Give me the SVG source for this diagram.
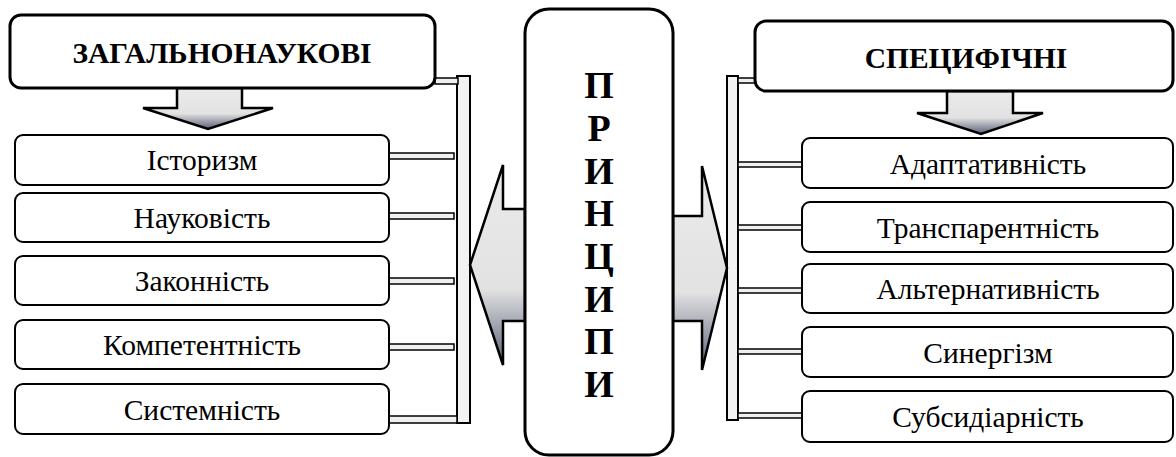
<svg xmlns="http://www.w3.org/2000/svg" width="1176" height="457" viewBox="0 0 1176 457">
<style>
.hdr{fill:#fff;stroke:#000;stroke-width:3}
.item{fill:#fff;stroke:#000;stroke-width:2}
.bar{fill:#f2f2f2;stroke:#000;stroke-width:2}
.conn{fill:#f0f0f0;stroke:#000;stroke-width:1.5}
.arrow{fill:url(#grad);stroke:#000;stroke-width:2.5;stroke-linejoin:miter}
text{font-family:'Liberation Serif','DejaVu Serif',serif;fill:#000;text-anchor:middle}
.t{font-size:29.5px}
.tb{font-size:29.5px;font-weight:bold}
.tc{font-size:38px;font-weight:bold}
</style>
<defs>
<linearGradient id="grad" x1="0" y1="0" x2="0" y2="1">
<stop offset="0" stop-color="#ebebeb"/>
<stop offset="0.62" stop-color="#e2e2e2"/>
<stop offset="1" stop-color="#5a6078"/>
</linearGradient>
</defs>
<rect width="1176" height="457" fill="#fff"/>

<g id="connectors">
<rect class="bar" x="457" y="76" width="13" height="347"/>
<rect class="bar" x="727" y="76" width="11" height="344"/>
<rect class="conn" x="435" y="78" width="23" height="6"/>
<rect class="conn" x="389" y="153" width="65" height="6"/>
<rect class="conn" x="389" y="213" width="65" height="6"/>
<rect class="conn" x="389" y="278" width="65" height="6"/>
<rect class="conn" x="389" y="344" width="65" height="6"/>
<rect class="conn" x="389" y="416" width="68" height="7"/>
<rect class="conn" x="738" y="78" width="17" height="5"/>
<rect class="conn" x="738" y="162" width="64" height="5"/>
<rect class="conn" x="738" y="225" width="64" height="5"/>
<rect class="conn" x="738" y="288" width="64" height="5"/>
<rect class="conn" x="738" y="349" width="64" height="5"/>
<rect class="conn" x="738" y="413" width="64" height="5"/>
<polygon id="arrow-left" class="arrow" points="525,209 503,209 503,165 470,265 503,365 503,321 525,321"/>
<polygon id="arrow-right" class="arrow" points="673,216 702,216 702,166 727,268 702,370 702,321 673,321"/>
<polygon id="arrow-down-left" class="arrow" points="177,88 242,88 242,108 273,108 208,129 143,108 177,108"/>
<polygon id="arrow-down-right" class="arrow" points="947,91 1013,91 1013,113 1043,113 981,134 917,113 947,113"/>
</g>

<g id="node-center">
<rect class="hdr" x="525" y="9" width="148" height="446" rx="24"/>
<text class="tc" x="599" y="98">П</text>
<text class="tc" x="599" y="141">Р</text>
<text class="tc" x="599" y="184">И</text>
<text class="tc" x="599" y="226">Н</text>
<text class="tc" x="599" y="269">Ц</text>
<text class="tc" x="599" y="312">И</text>
<text class="tc" x="599" y="354">П</text>
<text class="tc" x="599" y="397">И</text>
</g>

<g id="node-zagalnonaukovi">
<rect class="hdr" x="10" y="15" width="425" height="73" rx="11"/>
<text class="tb" x="222" y="63">ЗАГАЛЬНОНАУКОВІ</text>
</g>
<g id="node-istoryzm">
<rect class="item" x="15" y="135" width="374" height="50" rx="8"/>
<text class="t" x="202" y="170">Історизм</text>
</g>
<g id="node-naukovist">
<rect class="item" x="15" y="193" width="374" height="49" rx="8"/>
<text class="t" x="202" y="228">Науковість</text>
</g>
<g id="node-zakonnist">
<rect class="item" x="15" y="256" width="374" height="49" rx="8"/>
<text class="t" x="202" y="291">Законність</text>
</g>
<g id="node-kompetentnist">
<rect class="item" x="15" y="320" width="374" height="49" rx="8"/>
<text class="t" x="202" y="355">Компетентність</text>
</g>
<g id="node-systemnist">
<rect class="item" x="15" y="384" width="374" height="50" rx="8"/>
<text class="t" x="202" y="420">Системність</text>
</g>

<g id="node-spetsyfichni">
<rect class="hdr" x="755" y="21" width="418" height="70" rx="11"/>
<text class="tb" x="966" y="68">СПЕЦИФІЧНІ</text>
</g>
<g id="node-adaptatyvnist">
<rect class="item" x="802" y="138" width="371" height="50" rx="8"/>
<text class="t" x="988" y="174">Адаптативність</text>
</g>
<g id="node-transparentnist">
<rect class="item" x="802" y="202" width="371" height="50" rx="8"/>
<text class="t" x="988" y="238">Транспарентність</text>
</g>
<g id="node-alternatyvnist">
<rect class="item" x="802" y="264" width="371" height="49" rx="8"/>
<text class="t" x="988" y="299">Альтернативність</text>
</g>
<g id="node-synergizm">
<rect class="item" x="802" y="327" width="371" height="50" rx="8"/>
<text class="t" x="988" y="363">Синергізм</text>
</g>
<g id="node-subsydiarnist">
<rect class="item" x="802" y="391" width="371" height="51" rx="8"/>
<text class="t" x="988" y="427">Субсидіарність</text>
</g>
</svg>
